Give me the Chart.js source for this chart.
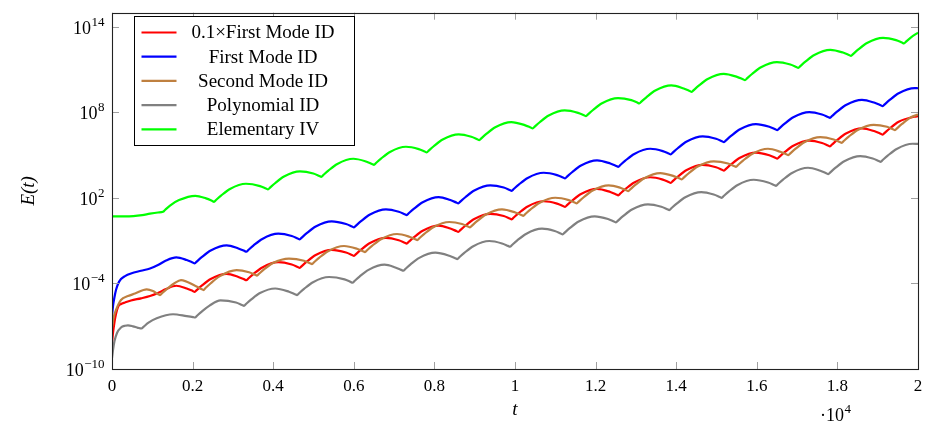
<!DOCTYPE html>
<html><head><meta charset="utf-8">
<script src="https://cdn.jsdelivr.net/npm/chart.js@4.4.1/dist/chart.umd.min.js"></script>
<style>html,body{margin:0;padding:0;background:#fff;} canvas{display:block;}</style>
</head><body>
<canvas id="c" width="943" height="437"></canvas>
<script>
// ---- labels / ticks ----
const seriesLabels = ['0.1\u00D7First Mode ID', 'First Mode ID', 'Second Mode ID', 'Polynomial ID', 'Elementary IV'];
const seriesColors = ['#ff0000', '#0000ff', '#bf8040', '#808080', '#00ff00'];
const xTickValues = [0, 2000, 4000, 6000, 8000, 10000, 12000, 14000, 16000, 18000, 20000];
const xTickLabels = ['0', '0.2', '0.4', '0.6', '0.8', '1', '1.2', '1.4', '1.6', '1.8', '2'];
const yTickValues = [1e-10, 1e-4, 1e2, 1e8, 1e14];
const yTickBase = ['10', '10', '10', '10', '10'];
const yTickExponent = ['\u221210', '\u22124', '2', '8', '14'];
const xScaleFactorBase = '\u00B710';
const xScaleFactorExponent = '4';

// ---- data: t values and log10 E(t) ----
const firstModeT = [
  0, 25, 62, 99, 149, 223, 323, 471, 720, 943, 1141, 1340, 1596, 1854, 2002,
  2052, 2102, 2226, 2449, 2846, 3135, 3283,
  3333, 3383, 3507, 3730, 4127, 4460, 4608,
  4658, 4708, 4832, 5055, 5452, 5807, 5955,
  6005, 6055, 6179, 6402, 6799, 7115, 7263,
  7313, 7363, 7487, 7710, 8107, 8395, 8543,
  8593, 8643, 8767, 8990, 9387, 9720, 9868,
  9918, 9968, 10092, 10315, 10712, 11043, 11191,
  11241, 11291, 11415, 11638, 12035, 12365, 12513,
  12563, 12613, 12737, 12960, 13357, 13666, 13814,
  13864, 13914, 14038, 14261, 14658, 14988, 15136,
  15186, 15236, 15360, 15583, 15980, 16311, 16459,
  16509, 16559, 16683, 16906, 17303, 17618, 17766,
  17816, 17866, 17990, 18213, 18610, 18926, 19074,
  19124, 19174, 19298, 19521, 19918, 20000
];
const firstModeLog10E = [
  -6.28, -5.58, -4.95, -4.46, -4.04, -3.69, -3.48, -3.30, -3.11, -2.95, -2.71, -2.39, -2.17, -2.354, -2.525,
  -2.587, -2.461, -2.155, -1.685, -1.321, -1.541, -1.712,
  -1.774, -1.648, -1.342, -0.872, -0.508, -0.671, -0.842,
  -0.904, -0.778, -0.472, -0.002, 0.362, 0.170, -0.001,
  -0.063, 0.063, 0.369, 0.839, 1.203, 1.033, 0.862,
  0.800, 0.926, 1.232, 1.702, 2.066, 1.853, 1.682,
  1.620, 1.746, 2.052, 2.522, 2.886, 2.737, 2.566,
  2.504, 2.630, 2.936, 3.406, 3.770, 3.606, 3.435,
  3.373, 3.499, 3.805, 4.275, 4.639, 4.420, 4.249,
  4.187, 4.313, 4.619, 5.089, 5.453, 5.290, 5.119,
  5.057, 5.183, 5.489, 5.959, 6.323, 6.152, 5.981,
  5.919, 6.045, 6.351, 6.821, 7.185, 6.994, 6.823,
  6.761, 6.887, 7.193, 7.663, 8.027, 7.856, 7.685,
  7.623, 7.749, 8.055, 8.525, 8.889, 8.677, 8.506,
  8.444, 8.570, 8.876, 9.346, 9.710, 9.700
];
const tenthFirstModeLog10E = [
  -8.18, -7.47, -6.70, -6.14, -5.65, -5.44, -5.33, -5.19, -5.04, -4.88, -4.67, -4.39, -4.16, -4.354, -4.525,
  -4.587, -4.461, -4.155, -3.685, -3.321, -3.541, -3.712,
  -3.774, -3.648, -3.342, -2.872, -2.508, -2.671, -2.842,
  -2.904, -2.778, -2.472, -2.002, -1.638, -1.830, -2.001,
  -2.063, -1.937, -1.631, -1.161, -0.797, -0.967, -1.138,
  -1.200, -1.074, -0.768, -0.298, 0.066, -0.147, -0.318,
  -0.380, -0.254, 0.052, 0.522, 0.886, 0.737, 0.566,
  0.504, 0.630, 0.936, 1.406, 1.770, 1.606, 1.435,
  1.373, 1.499, 1.805, 2.275, 2.639, 2.420, 2.249,
  2.187, 2.313, 2.619, 3.089, 3.453, 3.290, 3.119,
  3.057, 3.183, 3.489, 3.959, 4.323, 4.152, 3.981,
  3.919, 4.045, 4.351, 4.821, 5.185, 4.994, 4.823,
  4.761, 4.887, 5.193, 5.663, 6.027, 5.856, 5.685,
  5.623, 5.749, 6.055, 6.525, 6.889, 6.677, 6.506,
  6.444, 6.570, 6.876, 7.346, 7.710, 7.740
];
const secondModeT = [
  0, 50, 99, 223, 397, 571, 861, 1017, 1116,
  1191, 1241, 1365, 1550, 1712, 2072, 2220,
  2270, 2320, 2444, 2667, 3092, 3400, 3548,
  3598, 3648, 3772, 3995, 4392, 4765, 4913,
  4963, 5013, 5137, 5360, 5757, 6080, 6228,
  6278, 6328, 6452, 6675, 7072, 7378, 7526,
  7576, 7626, 7750, 7973, 8370, 8685, 8833,
  8883, 8933, 9057, 9280, 9677, 10008, 10156,
  10206, 10256, 10380, 10603, 11000, 11333, 11481,
  11531, 11581, 11705, 11928, 12325, 12613, 12761,
  12811, 12861, 12985, 13208, 13605, 13939, 14087,
  14137, 14187, 14311, 14534, 14931, 15286, 15434,
  15484, 15534, 15658, 15881, 16278, 16584, 16732,
  16782, 16832, 16956, 17179, 17576, 17909, 18057,
  18107, 18157, 18281, 18504, 18901, 19231, 19379,
  19429, 19479, 19603, 19826, 20000
];
const secondModeLog10E = [
  -7.09, -6.28, -5.86, -5.16, -4.88, -4.705, -4.41, -4.53, -4.705,
  -4.810, -4.68, -4.38, -3.98, -3.758, -4.18, -4.39,
  -4.460, -4.32, -4.00, -3.50, -3.06, -3.21, -3.38,
  -3.443, -3.317, -3.011, -2.56, -2.25, -2.403, -2.574,
  -2.636, -2.510, -2.204, -1.734, -1.370, -1.562, -1.733,
  -1.795, -1.669, -1.363, -0.893, -0.529, -0.720, -0.891,
  -0.953, -0.827, -0.521, -0.051, 0.313, 0.170, -0.001,
  -0.063, 0.063, 0.369, 0.839, 1.203, 0.984, 0.813,
  0.751, 0.877, 1.183, 1.653, 2.017, 1.853, 1.682,
  1.620, 1.746, 2.052, 2.522, 2.886, 2.716, 2.545,
  2.483, 2.609, 2.915, 3.385, 3.749, 3.536, 3.365,
  3.303, 3.429, 3.735, 4.205, 4.569, 4.420, 4.249,
  4.187, 4.313, 4.619, 5.089, 5.453, 5.240, 5.069,
  5.007, 5.133, 5.439, 5.909, 6.273, 6.103, 5.932,
  5.870, 5.996, 6.302, 6.772, 7.136, 6.994, 6.823,
  6.761, 6.887, 7.193, 7.663, 7.850
];
const polynomialT = [
  0, 25, 62, 124, 223, 323, 397, 521, 645,
  732, 782, 906, 1109, 1514, 1854, 2010,
  2060, 2110, 2234, 2420, 2692, 3077, 3225,
  3275, 3325, 3449, 3672, 4050, 4393, 4541,
  4591, 4641, 4765, 4988, 5385, 5770, 5918,
  5968, 6018, 6142, 6365, 6762, 7030, 7178,
  7228, 7278, 7402, 7625, 8022, 8370, 8518,
  8568, 8618, 8742, 8965, 9362, 9678, 9826,
  9876, 9926, 10050, 10273, 10670, 10985, 11133,
  11183, 11233, 11357, 11580, 11977, 12308, 12456,
  12506, 12556, 12680, 12903, 13300, 13631, 13779,
  13829, 13879, 14003, 14226, 14623, 14931, 15079,
  15129, 15179, 15303, 15526, 15923, 16279, 16427,
  16477, 16527, 16651, 16874, 17271, 17576, 17724,
  17774, 17824, 17948, 18171, 18568, 18876, 19024,
  19074, 19124, 19248, 19471, 19868, 20000
];
const polynomialLog10E = [
  -9.23, -8.67, -8.04, -7.475, -7.09, -6.963, -6.935, -7.005, -7.11,
  -7.159, -7.04, -6.75, -6.44, -6.157, -6.29, -6.36,
  -6.388, -6.26, -5.95, -5.55, -5.182, -5.335, -5.506,
  -5.568, -5.442, -5.136, -4.67, -4.35, -4.577, -4.748,
  -4.810, -4.684, -4.378, -3.908, -3.544, -3.715, -3.886,
  -3.948, -3.822, -3.516, -3.046, -2.682, -2.873, -3.044,
  -3.106, -2.980, -2.674, -2.204, -1.840, -2.053, -2.224,
  -2.286, -2.160, -1.854, -1.384, -1.020, -1.190, -1.361,
  -1.423, -1.297, -0.991, -0.521, -0.157, -0.321, -0.492,
  -0.554, -0.428, -0.122, 0.348, 0.712, 0.521, 0.350,
  0.288, 0.414, 0.720, 1.190, 1.554, 1.384, 1.213,
  1.151, 1.277, 1.583, 2.053, 2.417, 2.246, 2.075,
  2.013, 2.139, 2.445, 2.915, 3.279, 3.088, 2.917,
  2.855, 2.981, 3.287, 3.757, 4.121, 3.908, 3.737,
  3.675, 3.801, 4.107, 4.577, 4.941, 4.771, 4.600,
  4.538, 4.664, 4.970, 5.440, 5.804, 5.790
];
const elementaryT = [
  0, 300, 530, 750, 943, 1140, 1265, 1315, 1439, 1663, 2067, 2333, 2481,
  2531, 2581, 2705, 2928, 3325, 3673, 3821,
  3871, 3921, 4045, 4268, 4665, 4996, 5144,
  5194, 5244, 5368, 5591, 5988, 6303, 6451,
  6501, 6551, 6675, 6898, 7295, 7611, 7759,
  7809, 7859, 7983, 8206, 8603, 8916, 9064,
  9114, 9164, 9288, 9511, 9908, 10241, 10389,
  10439, 10489, 10613, 10836, 11233, 11564, 11712,
  11762, 11812, 11936, 12159, 12556, 12887, 13035,
  13085, 13135, 13259, 13482, 13879, 14187, 14335,
  14385, 14435, 14559, 14782, 15179, 15509, 15657,
  15707, 15757, 15881, 16104, 16501, 16832, 16980,
  17030, 17080, 17204, 17427, 17824, 18140, 18288,
  18338, 18388, 18512, 18735, 19132, 19455, 19603,
  19653, 19703, 19827, 20000
];
const elementaryLog10E = [
  0.71, 0.71, 0.73, 0.80, 0.90, 0.98, 1.031, 1.16, 1.47, 1.85, 2.154, 1.97, 1.80,
  1.733, 1.859, 2.165, 2.635, 2.999, 2.835, 2.664,
  2.602, 2.728, 3.034, 3.504, 3.868, 3.719, 3.548,
  3.486, 3.612, 3.918, 4.388, 4.752, 4.560, 4.389,
  4.327, 4.453, 4.759, 5.229, 5.593, 5.430, 5.259,
  5.197, 5.323, 5.629, 6.099, 6.463, 6.292, 6.121,
  6.059, 6.185, 6.491, 6.961, 7.325, 7.113, 6.942,
  6.880, 7.006, 7.312, 7.782, 8.146, 7.975, 7.804,
  7.742, 7.868, 8.174, 8.644, 9.008, 8.866, 8.695,
  8.633, 8.759, 9.065, 9.535, 9.899, 9.679, 9.508,
  9.446, 9.572, 9.878, 10.348, 10.712, 10.500, 10.329,
  10.267, 10.393, 10.699, 11.169, 11.533, 11.362, 11.191,
  11.129, 11.255, 11.561, 12.031, 12.395, 12.204, 12.033,
  11.971, 12.097, 12.403, 12.873, 13.237, 13.074, 12.903,
  12.841, 12.967, 13.273, 13.600
];

// ---- chart ----
const FONT = "'Liberation Serif', 'DejaVu Serif', serif";
function toPoints(T, L) { return T.map((t, i) => ({ x: t, y: Math.pow(10, L[i]) })); }
const seriesData = [
  toPoints(firstModeT, tenthFirstModeLog10E),
  toPoints(firstModeT, firstModeLog10E),
  toPoints(secondModeT, secondModeLog10E),
  toPoints(polynomialT, polynomialLog10E),
  toPoints(elementaryT, elementaryLog10E)
];

function drawPower(ctx, base, exp, rightX, baseY, baseSize, expSize, alignLeft) {
  ctx.font = expSize + 'px ' + FONT;
  const ew = ctx.measureText(exp).width;
  ctx.font = baseSize + 'px ' + FONT;
  const bw = ctx.measureText(base).width;
  const startX = alignLeft ? rightX : rightX - ew - bw;
  ctx.textAlign = 'left'; ctx.textBaseline = 'alphabetic';
  ctx.fillText(base, startX, baseY);
  ctx.font = expSize + 'px ' + FONT;
  ctx.fillText(exp, startX + bw + 0.5, baseY - 8);
}

const frame = {
  id: 'frame',
  afterDraw(chart) {
    const ctx = chart.ctx, a = chart.chartArea;
    const xs = chart.scales.x, ys = chart.scales.y;
    ctx.save();
    // inner tick marks on all four sides
    ctx.strokeStyle = '#a0a0a0'; ctx.lineWidth = 1;
    ctx.beginPath();
    xTickValues.forEach(v => {
      const px = Math.round(xs.getPixelForValue(v)) + 0.5;
      ctx.moveTo(px, a.bottom); ctx.lineTo(px, a.bottom - 7);
      ctx.moveTo(px, a.top); ctx.lineTo(px, a.top + 7);
    });
    yTickValues.forEach(v => {
      const py = Math.round(ys.getPixelForValue(v)) + 0.5;
      ctx.moveTo(a.left, py); ctx.lineTo(a.left + 7, py);
      ctx.moveTo(a.right, py); ctx.lineTo(a.right - 7, py);
    });
    ctx.stroke();
    // axis frame
    ctx.strokeStyle = '#222'; ctx.lineWidth = 1.1;
    ctx.strokeRect(Math.round(a.left) + 0.5, Math.round(a.top) + 0.5,
                   Math.round(a.right - a.left), Math.round(a.bottom - a.top));
    ctx.fillStyle = '#000';
    // y tick labels (10 with raised exponent)
    yTickValues.forEach((v, i) => {
      const py = ys.getPixelForValue(v);
      drawPower(ctx, yTickBase[i], yTickExponent[i], a.left - 8, py + 7, 18, 13, false);
    });
    // x scale multiplier
    drawPower(ctx, xScaleFactorBase, xScaleFactorExponent, 820, 421, 18, 13, true);
    // legend
    const bx = 134.5, by = 16.5, bw = 220, bh = 129;
    ctx.fillStyle = '#fff';
    ctx.fillRect(bx, by, bw, bh);
    ctx.strokeStyle = '#000'; ctx.lineWidth = 1;
    ctx.strokeRect(bx, by, bw, bh);
    ctx.font = '19px ' + FONT;
    ctx.textAlign = 'center'; ctx.textBaseline = 'middle';
    chart.data.datasets.forEach((ds, i) => {
      const ry = by + 16 + i * 24.2;
      ctx.strokeStyle = ds.borderColor; ctx.lineWidth = 2.2;
      ctx.beginPath(); ctx.moveTo(141.5, ry); ctx.lineTo(176.5, ry); ctx.stroke();
      ctx.fillStyle = '#000';
      ctx.fillText(ds.label, 263, ry + 1);
    });
    ctx.restore();
  }
};

new Chart(document.getElementById('c'), {
  type: 'line',
  data: {
    datasets: seriesLabels.map((lab, i) => ({
      label: lab,
      data: seriesData[i],
      borderColor: seriesColors[i],
      backgroundColor: seriesColors[i],
      borderWidth: 2.2,
      pointRadius: 0,
      fill: false,
      cubicInterpolationMode: 'monotone',
      order: 10 - i
    }))
  },
  options: {
    responsive: false,
    devicePixelRatio: 1,
    animation: false,
    layout: { autoPadding: false, padding: { top: 12.7, right: 25, left: 0, bottom: 0 } },
    plugins: { legend: { display: false }, tooltip: { enabled: false } },
    scales: {
      x: {
        type: 'linear', position: 'bottom', min: 0, max: 20000,
        grid: { display: false, drawTicks: false },
        border: { display: false },
        afterBuildTicks: s => { s.ticks = xTickValues.map(v => ({ value: v })); },
        afterFit: s => { s.height = 68; },
        ticks: {
          autoSkip: false, maxRotation: 0, padding: 7, color: '#000',
          font: { family: FONT, size: 17 },
          callback: (v, i) => xTickLabels[i]
        },
        title: {
          display: true, text: 't', color: '#000',
          font: { family: FONT, size: 19, style: 'italic' },
          padding: { top: 0, bottom: 16 }
        }
      },
      y: {
        type: 'logarithmic', min: 1e-10, max: 1e15,
        grid: { display: false, drawTicks: false },
        border: { display: false },
        afterBuildTicks: s => { s.ticks = yTickValues.map(v => ({ value: v })); },
        afterFit: s => { s.width = 112; },
        ticks: { display: false },
        title: {
          display: true, text: 'E(t)', color: '#000',
          font: { family: FONT, size: 19, style: 'italic' },
          padding: { top: 18, bottom: 0 }
        }
      }
    }
  },
  plugins: [frame]
});
</script>
</body></html>
